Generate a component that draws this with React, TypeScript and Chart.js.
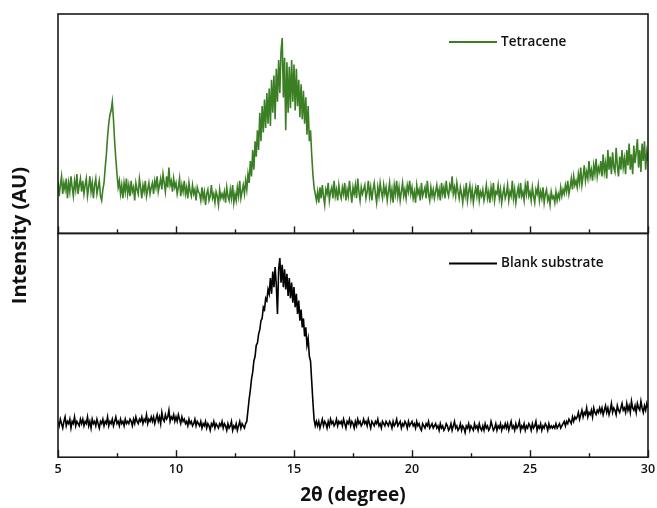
import { useEffect, useRef } from 'react';
import { Chart, registerables } from 'chart.js';

Chart.register(...registerables);

// 2θ sampling grid (degrees)
const X_START = 5;
const X_STEP = 0.05;

// Tetracene film (top panel), arbitrary units, 5.00 → 30.00 step 0.05 (20 values per degree)
const tetracene = [
  24, 17, 22, 26, 18, 23, 20, 25, 16, 23, 19, 26, 21, 17, 24, 20, 27, 18, 22, 25,
  19, 24, 18, 22, 25, 17, 21, 26, 19, 23, 16, 22, 25, 18, 21, 24, 17, 15, 20, 23,
  30, 36, 44, 50, 54, 56, 60, 52, 42, 34, 27, 21, 24, 18, 22, 16, 23, 19, 25, 18,
  22, 17, 24, 19, 21, 15, 23, 20, 18, 25, 21, 16, 22, 19, 24, 17, 20, 23, 18, 21,
  23, 18, 24, 21, 26, 19, 22, 25, 20, 27, 23, 19, 26, 21, 30, 22, 24, 19, 25, 21,
  23, 18, 21, 25, 17, 22, 19, 24, 18, 21, 16, 23, 19, 17, 22, 18, 20, 15, 21, 19,
  18, 15, 21, 16, 19, 13, 18, 20, 15, 17, 22, 16, 18, 14, 19, 17, 13, 20, 16, 18,
  16, 19, 14, 21, 17, 15, 20, 16, 22, 14, 18, 15, 21, 17, 24, 16, 19, 22, 18, 24,
  20, 27, 23, 33, 26, 38, 29, 42, 35, 47, 38, 55, 42, 58, 46, 61, 48, 64, 50, 66,
  49, 70, 55, 72, 52, 75, 60, 79, 64, 83, 89, 62, 80, 47, 78, 55, 76, 57, 79, 60,
  77, 56, 75, 58, 70, 53, 68, 52, 65, 50, 62, 45, 58, 42, 47, 36, 27, 21, 18, 15,
  19, 14, 21, 16, 22, 17, 13, 20, 18, 23, 15, 19, 21, 16, 24, 17, 20, 15, 22, 18,
  16, 21, 18, 23, 15, 20, 17, 24, 19, 14, 21, 18, 22, 16, 25, 19, 15, 21, 18, 20,
  22, 16, 19, 24, 17, 21, 15, 20, 23, 18, 14, 21, 17, 23, 19, 16, 22, 18, 21, 15,
  19, 23, 16, 20, 14, 22, 18, 24, 17, 21, 15, 19, 23, 17, 20, 16, 22, 19, 24, 18,
  21, 16, 19, 14, 22, 18, 20, 15, 23, 17, 19, 21, 16, 24, 18, 15, 21, 17, 20, 16,
  19, 22, 17, 20, 15, 23, 18, 21, 16, 24, 19, 17, 22, 20, 26, 18, 21, 17, 23, 19,
  16, 21, 18, 14, 20, 17, 23, 15, 19, 22, 16, 20, 14, 18, 21, 17, 22, 15, 19, 17,
  20, 15, 18, 22, 16, 19, 14, 21, 17, 23, 15, 19, 18, 22, 16, 20, 14, 18, 21, 16,
  18, 22, 15, 19, 17, 24, 16, 20, 14, 18, 21, 16, 23, 17, 19, 15, 22, 18, 24, 17,
  19, 15, 21, 17, 14, 20, 18, 22, 15, 19, 16, 21, 14, 18, 20, 15, 17, 13, 19, 16,
  17, 14, 19, 15, 18, 16, 21, 17, 20, 18, 22, 19, 24, 18, 21, 25, 20, 26, 22, 24,
  21, 27, 23, 30, 22, 26, 31, 24, 28, 25, 33, 26, 29, 24, 31, 27, 34, 26, 30, 28,
  33, 26, 36, 28, 32, 25, 38, 29, 35, 27, 37, 30, 28, 39, 31, 26, 35, 29, 38, 30,
  34, 27, 38, 31, 41, 29, 36, 27, 40, 32, 37, 43, 30, 38, 28, 41, 33, 42, 29, 37,
  33,
];

// Blank substrate (bottom panel), arbitrary units, 5.00 → 30.00 step 0.05 (20 values per degree)
const blank = [
  16, 14, 17, 15, 13, 16, 18, 14, 16, 15, 17, 13, 16, 15, 18, 14, 16, 15, 14, 17,
  15, 17, 14, 16, 15, 18, 14, 16, 13, 17, 15, 16, 14, 17, 15, 13, 16, 15, 17, 14,
  16, 15, 18, 14, 16, 15, 17, 14, 16, 18, 15, 16, 14, 17, 15, 16, 14, 17, 15, 16,
  15, 17, 16, 14, 17, 15, 18, 16, 15, 17, 16, 18, 15, 17, 16, 19, 15, 17, 16, 18,
  16, 18, 15, 17, 19, 16, 18, 15, 20, 17, 16, 19, 17, 18, 21, 16, 18, 17, 19, 16,
  18, 16, 19, 17, 15, 18, 16, 17, 15, 16, 14, 17, 15, 16, 14, 15, 17, 14, 16, 15,
  14, 16, 13, 15, 14, 16, 13, 15, 14, 12, 15, 14, 16, 13, 15, 14, 13, 15, 14, 16,
  13, 15, 14, 12, 15, 13, 14, 16, 12, 14, 13, 15, 12, 14, 16, 13, 15, 14, 13, 15,
  16, 21, 26, 30, 35, 38, 43, 45, 50, 51, 55, 57, 61, 62, 67, 66, 71, 70, 75, 73,
  80, 73, 83, 76, 85, 77, 64, 84, 89, 78, 86, 76, 84, 75, 82, 72, 80, 71, 78, 69,
  76, 67, 73, 64, 70, 61, 66, 58, 62, 54, 58, 50, 53, 45, 43, 34, 25, 17, 14, 16,
  14, 16, 13, 15, 17, 14, 16, 15, 13, 16, 14, 17, 15, 16, 14, 15, 17, 14, 16, 15,
  16, 14, 17, 15, 13, 16, 15, 17, 14, 16, 15, 13, 16, 14, 17, 15, 16, 14, 15, 17,
  15, 16, 14, 17, 15, 13, 16, 15, 14, 16, 15, 17, 14, 15, 13, 16, 15, 14, 16, 15,
  14, 16, 15, 13, 16, 14, 15, 17, 14, 15, 16, 13, 15, 14, 16, 15, 13, 16, 14, 15,
  16, 14, 15, 13, 16, 14, 15, 13, 12, 15, 14, 13, 15, 14, 16, 13, 14, 15, 13, 14,
  15, 13, 14, 12, 15, 13, 14, 12, 13, 15, 14, 12, 13, 15, 12, 14, 16, 13, 14, 12,
  13, 15, 12, 14, 13, 11, 14, 13, 15, 12, 14, 13, 12, 15, 13, 14, 12, 15, 13, 12,
  14, 12, 15, 13, 14, 12, 13, 16, 14, 12, 13, 15, 12, 14, 13, 15, 12, 14, 13, 15,
  13, 15, 12, 14, 16, 13, 14, 12, 15, 13, 14, 16, 12, 14, 13, 15, 12, 14, 13, 15,
  14, 12, 15, 13, 14, 16, 12, 14, 13, 15, 12, 14, 13, 15, 14, 12, 15, 13, 14, 13,
  14, 13, 15, 13, 14, 15, 13, 14, 15, 16, 14, 16, 15, 17, 16, 15, 18, 16, 18, 17,
  18, 20, 17, 19, 21, 18, 20, 19, 22, 18, 20, 19, 21, 18, 22, 20, 19, 21, 20, 22,
  20, 22, 19, 21, 23, 20, 22, 19, 21, 24, 20, 22, 21, 19, 23, 21, 20, 22, 24, 21,
  22, 20, 24, 21, 23, 20, 25, 22, 21, 23, 20, 24, 22, 21, 25, 22, 20, 23, 21, 24,
  22,
];

const seriesLabels = ['Tetracene', 'Blank substrate'];
const seriesColors = ['#3b7f24', '#000000'];
const xLabelTicks = [5, 10, 15, 20, 25, 30];
const xMinorTicks = [7.5, 12.5, 17.5, 22.5, 27.5];
const xTitle = '2θ (degree)';
const yTitle = 'Intensity (AU)';

const FONT = '"Open Sans", "Noto Sans", sans-serif';

const toPoints = (ys: number[]) =>
  ys.map((y, i) => ({ x: Math.round((X_START + i * X_STEP) * 100) / 100, y }));

const panelPlugin = {
  id: 'panelDecor',
  afterDatasetsDraw(chart: any) {
    const { ctx, chartArea, scales } = chart;
    const xs = scales.x;
    const panels = [scales.yTop, scales.yBottom];
    ctx.save();
    // frames
    ctx.strokeStyle = '#1a1a1a';
    ctx.lineWidth = 1.6;
    panels.forEach((s: any) => {
      ctx.strokeRect(chartArea.left, s.top, chartArea.right - chartArea.left, s.bottom - s.top);
    });
    // inward ticks at bottom of each panel
    ctx.lineWidth = 1.4;
    panels.forEach((s: any) => {
      const all = [...xLabelTicks.map((v) => [v, 7]), ...xMinorTicks.map((v) => [v, 4])];
      all.forEach(([v, len]) => {
        const px = Math.round(xs.getPixelForValue(v)) + 0.5;
        ctx.beginPath();
        ctx.moveTo(px, s.bottom);
        ctx.lineTo(px, s.bottom - len);
        ctx.stroke();
      });
    });
    // legends
    const datasets = chart.data.datasets;
    panels.forEach((s: any, i: number) => {
      const y = s.top + (i === 0 ? 28 : 30);
      const x0 = chartArea.right - 199;
      ctx.strokeStyle = datasets[i].borderColor;
      ctx.lineWidth = 2;
      ctx.beginPath();
      ctx.moveTo(x0, y);
      ctx.lineTo(x0 + 48, y);
      ctx.stroke();
      ctx.fillStyle = '#111';
      ctx.font = `600 13.5px ${FONT}`;
      ctx.textAlign = 'left';
      ctx.textBaseline = 'middle';
      ctx.fillText(datasets[i].label, x0 + 52, y);
    });
    // y title
    ctx.translate(20, (chartArea.top + chartArea.bottom) / 2);
    ctx.rotate(-Math.PI / 2);
    ctx.fillStyle = '#111';
    ctx.font = `bold 20px ${FONT}`;
    ctx.textAlign = 'center';
    ctx.textBaseline = 'middle';
    ctx.fillText(yTitle, 0, 0);
    ctx.restore();
  },
};

function XrdChart() {
  const ref = useRef<HTMLCanvasElement | null>(null);
  useEffect(() => {
    if (!ref.current) return;
    const chart = new Chart(ref.current, {
      type: 'line',
      data: {
        datasets: [
          {
            label: seriesLabels[0],
            data: toPoints(tetracene),
            borderColor: seriesColors[0],
            borderWidth: 1.6,
            pointRadius: 0,
            tension: 0,
            yAxisID: 'yTop',
          },
          {
            label: seriesLabels[1],
            data: toPoints(blank),
            borderColor: seriesColors[1],
            borderWidth: 1.6,
            pointRadius: 0,
            tension: 0,
            yAxisID: 'yBottom',
          },
        ],
      },
      options: {
        responsive: false,
        animation: false,
        devicePixelRatio: 1,
        layout: { padding: { left: 58, right: 9, top: 14, bottom: 1 } },
        plugins: { legend: { display: false }, tooltip: { enabled: false } },
        scales: {
          x: {
            type: 'linear',
            min: 5,
            max: 30,
            afterBuildTicks: (scale: any) => {
              scale.ticks = xLabelTicks.map((v) => ({ value: v }));
            },
            afterFit: (scale: any) => {
              scale.paddingLeft = 0;
              scale.paddingRight = 0;
            },
            grid: { display: false, drawTicks: false },
            border: { display: false },
            ticks: {
              padding: 5,
              color: '#111',
              maxRotation: 0,
              autoSkip: false,
              font: { family: FONT, size: 12.5, weight: '600' },
            },
            title: {
              display: true,
              text: xTitle,
              color: '#111',
              font: { family: FONT, size: 19, weight: 'bold' },
              padding: { top: 2, bottom: 0 },
            },
          },
          yBottom: {
            type: 'linear',
            position: 'left',
            stack: 'xrd',
            stackWeight: 1.02,
            min: 0,
            max: 100,
            display: false,
          },
          yTop: {
            type: 'linear',
            position: 'left',
            stack: 'xrd',
            stackWeight: 1,
            min: 0,
            max: 100,
            display: false,
          },
        },
      },
      plugins: [panelPlugin],
    } as any);
    return () => chart.destroy();
  }, []);
  return <canvas ref={ref} width={657} height={508} />;
}

export default function App() {
  return (
    <div style={{ position: 'fixed', left: 0, top: 0, width: 657, height: 508, background: '#fff' }}>
      <XrdChart />
    </div>
  );
}
